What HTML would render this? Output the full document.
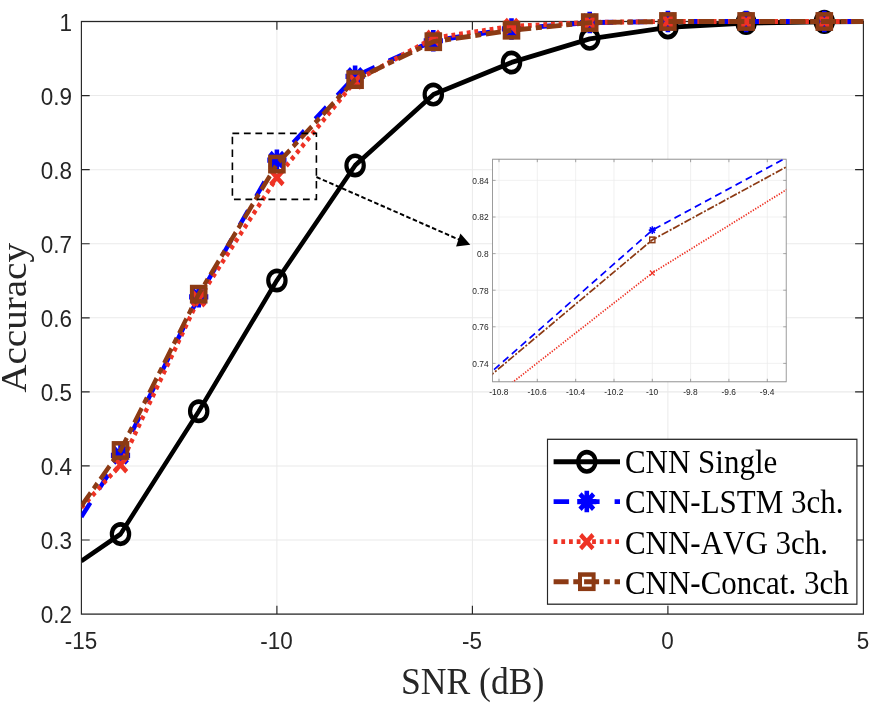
<!DOCTYPE html><html><head><meta charset="utf-8"><title>Accuracy vs SNR</title><style>html,body{margin:0;padding:0;background:#fff}svg{display:block}text{white-space:pre;font-kerning:none}</style></head><body>
<svg width="883" height="706" viewBox="0 0 883 706">
<rect width="883" height="706" fill="#fff"/>
<defs><clipPath id="cm"><rect x="81.4" y="0" width="782.0" height="548.30"/></clipPath>
<clipPath id="ci"><rect x="492.6" y="142.14" width="293.6" height="198.75"/></clipPath></defs>
<g transform="scale(1,1.12)">
<line x1="276.9" y1="19.20" x2="276.9" y2="548.30" stroke="#eaeaea" stroke-width="1"/>
<line x1="472.4" y1="19.20" x2="472.4" y2="548.30" stroke="#eaeaea" stroke-width="1"/>
<line x1="667.9" y1="19.20" x2="667.9" y2="548.30" stroke="#eaeaea" stroke-width="1"/>
<line x1="81.4" y1="482.17" x2="863.4" y2="482.17" stroke="#eaeaea" stroke-width="0.9"/>
<line x1="81.4" y1="416.03" x2="863.4" y2="416.03" stroke="#eaeaea" stroke-width="0.9"/>
<line x1="81.4" y1="349.89" x2="863.4" y2="349.89" stroke="#eaeaea" stroke-width="0.9"/>
<line x1="81.4" y1="283.75" x2="863.4" y2="283.75" stroke="#eaeaea" stroke-width="0.9"/>
<line x1="81.4" y1="217.61" x2="863.4" y2="217.61" stroke="#eaeaea" stroke-width="0.9"/>
<line x1="81.4" y1="151.47" x2="863.4" y2="151.47" stroke="#eaeaea" stroke-width="0.9"/>
<line x1="81.4" y1="85.33" x2="863.4" y2="85.33" stroke="#eaeaea" stroke-width="0.9"/>
<rect x="81.4" y="19.20" width="782.0" height="529.11" fill="none" stroke="#262626" stroke-width="1.15"/>
<path d="M276.9 548.30v-7.41M276.9 19.20v7.41" stroke="#262626" stroke-width="1.15"/>
<path d="M472.4 548.30v-7.41M472.4 19.20v7.41" stroke="#262626" stroke-width="1.15"/>
<path d="M667.9 548.30v-7.41M667.9 19.20v7.41" stroke="#262626" stroke-width="1.15"/>
<path d="M81.4 482.17h8.3M863.4 482.17h-8.3" stroke="#262626" stroke-width="1.05"/>
<path d="M81.4 416.03h8.3M863.4 416.03h-8.3" stroke="#262626" stroke-width="1.05"/>
<path d="M81.4 349.89h8.3M863.4 349.89h-8.3" stroke="#262626" stroke-width="1.05"/>
<path d="M81.4 283.75h8.3M863.4 283.75h-8.3" stroke="#262626" stroke-width="1.05"/>
<path d="M81.4 217.61h8.3M863.4 217.61h-8.3" stroke="#262626" stroke-width="1.05"/>
<path d="M81.4 151.47h8.3M863.4 151.47h-8.3" stroke="#262626" stroke-width="1.05"/>
<path d="M81.4 85.33h8.3M863.4 85.33h-8.3" stroke="#262626" stroke-width="1.05"/>
<g font-family="'Liberation Sans',Arial,Helvetica,sans-serif" font-size="21.1" fill="#262626">
<text transform="translate(80.9,579.64) scale(1.065,1)" text-anchor="middle">-15</text>
<text transform="translate(276.4,579.64) scale(1.065,1)" text-anchor="middle">-10</text>
<text transform="translate(471.9,579.64) scale(1.065,1)" text-anchor="middle">-5</text>
<text transform="translate(667.4,579.64) scale(1.065,1)" text-anchor="middle">0</text>
<text transform="translate(862.9,579.64) scale(1.065,1)" text-anchor="middle">5</text>
<text transform="translate(72.1,556.61) scale(1.065,1)" text-anchor="end">0.2</text>
<text transform="translate(72.1,490.47) scale(1.065,1)" text-anchor="end">0.3</text>
<text transform="translate(72.1,424.33) scale(1.065,1)" text-anchor="end">0.4</text>
<text transform="translate(72.1,358.19) scale(1.065,1)" text-anchor="end">0.5</text>
<text transform="translate(72.1,292.05) scale(1.065,1)" text-anchor="end">0.6</text>
<text transform="translate(72.1,225.92) scale(1.065,1)" text-anchor="end">0.7</text>
<text transform="translate(72.1,159.78) scale(1.065,1)" text-anchor="end">0.8</text>
<text transform="translate(72.1,93.64) scale(1.065,1)" text-anchor="end">0.9</text>
<text transform="translate(72.1,27.50) scale(1.065,1)" text-anchor="end">1</text>
</g>
<text transform="translate(472.6,619.29) scale(1,0.96)" text-anchor="middle" font-family="'Liberation Serif','Times New Roman',Times,serif" font-size="35.6" fill="#262626">SNR (dB)</text>
<text transform="translate(26,283.84) rotate(-90) scale(0.96,1)" text-anchor="middle" font-family="'Liberation Serif','Times New Roman',Times,serif" font-size="36.4" fill="#262626">Accuracy</text>
<polyline clip-path="url(#cm)" points="81.4,500.88 120.5,476.87 198.7,367.22 276.9,250.42 355.1,147.70 433.3,84.41 511.5,55.77 589.7,34.67 667.9,24.49 746.1,20.52 824.3,19.53 902.5,19.20" fill="none" stroke="#000" stroke-width="4.33" stroke-linejoin="round"/>
<circle cx="120.5" cy="476.87" r="8.65" fill="none" stroke="#000" stroke-width="4.2"/>
<circle cx="198.7" cy="367.22" r="8.65" fill="none" stroke="#000" stroke-width="4.2"/>
<circle cx="276.9" cy="250.42" r="8.65" fill="none" stroke="#000" stroke-width="4.2"/>
<circle cx="355.1" cy="147.70" r="8.65" fill="none" stroke="#000" stroke-width="4.2"/>
<circle cx="433.3" cy="84.41" r="8.65" fill="none" stroke="#000" stroke-width="4.2"/>
<circle cx="511.5" cy="55.77" r="8.65" fill="none" stroke="#000" stroke-width="4.2"/>
<circle cx="589.7" cy="34.67" r="8.65" fill="none" stroke="#000" stroke-width="4.2"/>
<circle cx="667.9" cy="24.49" r="8.65" fill="none" stroke="#000" stroke-width="4.2"/>
<circle cx="746.1" cy="20.52" r="8.65" fill="none" stroke="#000" stroke-width="4.2"/>
<circle cx="824.3" cy="19.53" r="8.65" fill="none" stroke="#000" stroke-width="4.2"/>
<polyline clip-path="url(#cm)" points="81.4,461.40 120.5,406.57 198.7,265.03 276.9,143.01 355.1,68.14 433.3,36.39 511.5,25.81 589.7,20.19 667.9,19.20 746.1,19.20 824.3,19.20 902.5,19.20" fill="none" stroke="#0000ff" stroke-width="4.33" stroke-linejoin="round" stroke-dasharray="15.5 15"/>
<path d="M110.9 406.57H130.1M120.5 396.97V416.17M113.7 399.78L127.3 413.36M113.7 413.36L127.3 399.78" fill="none" stroke="#0000ff" stroke-width="4.6"/>
<path d="M189.1 265.03H208.3M198.7 255.43V274.63M191.9 258.24L205.5 271.82M191.9 271.82L205.5 258.24" fill="none" stroke="#0000ff" stroke-width="4.6"/>
<path d="M267.3 143.01H286.5M276.9 133.41V152.61M270.1 136.22L283.7 149.80M270.1 149.80L283.7 136.22" fill="none" stroke="#0000ff" stroke-width="4.6"/>
<path d="M345.5 68.14H364.7M355.1 58.54V77.74M348.3 61.35L361.9 74.93M348.3 74.93L361.9 61.35" fill="none" stroke="#0000ff" stroke-width="4.6"/>
<path d="M423.7 36.39H442.9M433.3 26.79V45.99M426.5 29.60L440.1 43.18M426.5 43.18L440.1 29.60" fill="none" stroke="#0000ff" stroke-width="4.6"/>
<path d="M501.9 25.81H521.1M511.5 16.21V35.41M504.7 19.02L518.3 32.60M504.7 32.60L518.3 19.02" fill="none" stroke="#0000ff" stroke-width="4.6"/>
<path d="M580.1 20.19H599.3M589.7 10.59V29.79M582.9 13.40L596.5 26.98M582.9 26.98L596.5 13.40" fill="none" stroke="#0000ff" stroke-width="4.6"/>
<path d="M658.3 19.20H677.5M667.9 9.60V28.80M661.1 12.41L674.7 25.98M661.1 25.98L674.7 12.41" fill="none" stroke="#0000ff" stroke-width="4.6"/>
<path d="M736.5 19.20H755.7M746.1 9.60V28.80M739.3 12.41L752.9 25.98M739.3 25.98L752.9 12.41" fill="none" stroke="#0000ff" stroke-width="4.6"/>
<path d="M814.7 19.20H833.9M824.3 9.60V28.80M817.5 12.41L831.1 25.98M817.5 25.98L831.1 12.41" fill="none" stroke="#0000ff" stroke-width="4.6"/>
<polyline clip-path="url(#cm)" points="81.4,453.06 120.5,414.97 198.7,266.88 276.9,158.48 355.1,72.44 433.3,34.08 511.5,23.50 589.7,19.99 667.9,19.20 746.1,19.20 824.3,19.20 902.5,19.20" fill="none" stroke="#ee3224" stroke-width="4.33" stroke-linejoin="round" stroke-dasharray="3.8 3.9"/>
<path d="M114.3 408.77L126.7 421.17M114.3 421.17L126.7 408.77" fill="none" stroke="#ee3224" stroke-width="4.3"/>
<path d="M192.5 260.68L204.9 273.08M192.5 273.08L204.9 260.68" fill="none" stroke="#ee3224" stroke-width="4.3"/>
<path d="M270.7 152.28L283.1 164.68M270.7 164.68L283.1 152.28" fill="none" stroke="#ee3224" stroke-width="4.3"/>
<path d="M348.9 66.24L361.3 78.64M348.9 78.64L361.3 66.24" fill="none" stroke="#ee3224" stroke-width="4.3"/>
<path d="M427.1 27.88L439.5 40.28M427.1 40.28L439.5 27.88" fill="none" stroke="#ee3224" stroke-width="4.3"/>
<path d="M505.3 17.30L517.7 29.70M505.3 29.70L517.7 17.30" fill="none" stroke="#ee3224" stroke-width="4.3"/>
<path d="M583.5 13.79L595.9 26.19M583.5 26.19L595.9 13.79" fill="none" stroke="#ee3224" stroke-width="4.3"/>
<path d="M661.7 13.00L674.1 25.40M661.7 25.40L674.1 13.00" fill="none" stroke="#ee3224" stroke-width="4.3"/>
<path d="M739.9 13.00L752.3 25.40M739.9 25.40L752.3 13.00" fill="none" stroke="#ee3224" stroke-width="4.3"/>
<path d="M818.1 13.00L830.5 25.40M818.1 25.40L830.5 13.00" fill="none" stroke="#ee3224" stroke-width="4.3"/>
<polyline clip-path="url(#cm)" points="81.4,451.74 120.5,402.20 198.7,262.65 276.9,146.51 355.1,71.12 433.3,37.25 511.5,27.00 589.7,20.19 667.9,19.20 746.1,19.20 824.3,19.20 902.5,19.20" fill="none" stroke="#8c3a14" stroke-width="4.33" stroke-linejoin="round" stroke-dasharray="15 4.7 6 4.8"/>
<rect x="113.7" y="395.81" width="13.60" height="12.78" fill="none" stroke="#8c3a14" stroke-width="4.0"/>
<rect x="191.9" y="256.26" width="13.60" height="12.78" fill="none" stroke="#8c3a14" stroke-width="4.0"/>
<rect x="270.1" y="140.12" width="13.60" height="12.78" fill="none" stroke="#8c3a14" stroke-width="4.0"/>
<rect x="348.3" y="64.72" width="13.60" height="12.78" fill="none" stroke="#8c3a14" stroke-width="4.0"/>
<rect x="426.5" y="30.86" width="13.60" height="12.78" fill="none" stroke="#8c3a14" stroke-width="4.0"/>
<rect x="504.7" y="20.61" width="13.60" height="12.78" fill="none" stroke="#8c3a14" stroke-width="4.0"/>
<rect x="582.9" y="13.80" width="13.60" height="12.78" fill="none" stroke="#8c3a14" stroke-width="4.0"/>
<rect x="661.1" y="12.80" width="13.60" height="12.78" fill="none" stroke="#8c3a14" stroke-width="4.0"/>
<rect x="739.3" y="12.80" width="13.60" height="12.78" fill="none" stroke="#8c3a14" stroke-width="4.0"/>
<rect x="817.5" y="12.80" width="13.60" height="12.78" fill="none" stroke="#8c3a14" stroke-width="4.0"/>
<path d="M232.4 119.11H316.4V177.95H232.4Z" fill="none" stroke="#000" stroke-width="1.6" stroke-dasharray="6.8 4.7"/>
<line x1="316.4" y1="158.04" x2="459" y2="213.93" stroke="#000" stroke-width="1.8" stroke-dasharray="4.5 2.4"/>
<path d="M470.3 218.57L460.4 208.39L456.1 220.18Z" fill="#000"/>
<rect x="492.6" y="142.14" width="293.6" height="198.75" fill="#fff"/>
<line x1="499.0" y1="142.14" x2="499.0" y2="340.89" stroke="#ebebeb" stroke-width="0.7"/>
<line x1="537.3" y1="142.14" x2="537.3" y2="340.89" stroke="#ebebeb" stroke-width="0.7"/>
<line x1="575.7" y1="142.14" x2="575.7" y2="340.89" stroke="#ebebeb" stroke-width="0.7"/>
<line x1="614.0" y1="142.14" x2="614.0" y2="340.89" stroke="#ebebeb" stroke-width="0.7"/>
<line x1="652.3" y1="142.14" x2="652.3" y2="340.89" stroke="#ebebeb" stroke-width="0.7"/>
<line x1="690.6" y1="142.14" x2="690.6" y2="340.89" stroke="#ebebeb" stroke-width="0.7"/>
<line x1="728.9" y1="142.14" x2="728.9" y2="340.89" stroke="#ebebeb" stroke-width="0.7"/>
<line x1="767.3" y1="142.14" x2="767.3" y2="340.89" stroke="#ebebeb" stroke-width="0.7"/>
<line x1="492.6" y1="324.46" x2="786.2" y2="324.46" stroke="#ebebeb" stroke-width="0.65"/>
<line x1="492.6" y1="291.79" x2="786.2" y2="291.79" stroke="#ebebeb" stroke-width="0.65"/>
<line x1="492.6" y1="259.11" x2="786.2" y2="259.11" stroke="#ebebeb" stroke-width="0.65"/>
<line x1="492.6" y1="226.43" x2="786.2" y2="226.43" stroke="#ebebeb" stroke-width="0.65"/>
<line x1="492.6" y1="193.75" x2="786.2" y2="193.75" stroke="#ebebeb" stroke-width="0.65"/>
<line x1="492.6" y1="161.07" x2="786.2" y2="161.07" stroke="#ebebeb" stroke-width="0.65"/>
<rect x="492.6" y="142.14" width="293.6" height="198.75" fill="none" stroke="#848484" stroke-width="0.8"/>
<path d="M499.0 340.89v-2.68M499.0 142.14v2.68" stroke="#848484" stroke-width="0.7"/>
<path d="M537.3 340.89v-2.68M537.3 142.14v2.68" stroke="#848484" stroke-width="0.7"/>
<path d="M575.7 340.89v-2.68M575.7 142.14v2.68" stroke="#848484" stroke-width="0.7"/>
<path d="M614.0 340.89v-2.68M614.0 142.14v2.68" stroke="#848484" stroke-width="0.7"/>
<path d="M652.3 340.89v-2.68M652.3 142.14v2.68" stroke="#848484" stroke-width="0.7"/>
<path d="M690.6 340.89v-2.68M690.6 142.14v2.68" stroke="#848484" stroke-width="0.7"/>
<path d="M728.9 340.89v-2.68M728.9 142.14v2.68" stroke="#848484" stroke-width="0.7"/>
<path d="M767.3 340.89v-2.68M767.3 142.14v2.68" stroke="#848484" stroke-width="0.7"/>
<path d="M492.6 324.46h3M786.2 324.46h-3" stroke="#848484" stroke-width="0.65"/>
<path d="M492.6 291.79h3M786.2 291.79h-3" stroke="#848484" stroke-width="0.65"/>
<path d="M492.6 259.11h3M786.2 259.11h-3" stroke="#848484" stroke-width="0.65"/>
<path d="M492.6 226.43h3M786.2 226.43h-3" stroke="#848484" stroke-width="0.65"/>
<path d="M492.6 193.75h3M786.2 193.75h-3" stroke="#848484" stroke-width="0.65"/>
<path d="M492.6 161.07h3M786.2 161.07h-3" stroke="#848484" stroke-width="0.65"/>
<g font-family="'Liberation Sans',Arial,Helvetica,sans-serif" font-size="8.4" fill="#262626">
<text x="498.8" y="352.68" text-anchor="middle">-10.8</text>
<text x="537.1" y="352.68" text-anchor="middle">-10.6</text>
<text x="575.5" y="352.68" text-anchor="middle">-10.4</text>
<text x="613.8" y="352.68" text-anchor="middle">-10.2</text>
<text x="652.1" y="352.68" text-anchor="middle">-10</text>
<text x="690.4" y="352.68" text-anchor="middle">-9.8</text>
<text x="728.7" y="352.68" text-anchor="middle">-9.6</text>
<text x="767.1" y="352.68" text-anchor="middle">-9.4</text>
<text x="488.6" y="327.50" text-anchor="end">0.74</text>
<text x="488.6" y="294.82" text-anchor="end">0.76</text>
<text x="488.6" y="262.14" text-anchor="end">0.78</text>
<text x="488.6" y="229.46" text-anchor="end">0.8</text>
<text x="488.6" y="196.79" text-anchor="end">0.82</text>
<text x="488.6" y="164.11" text-anchor="end">0.84</text>
</g>
<polyline clip-path="url(#ci)" points="-305.7,992.09 -114.1,856.63 269.1,506.97 652.3,205.51 1035.5,20.55 1418.7,-57.88 1801.9,-84.02 2185.1,-97.91 2568.3,-100.36 2951.5,-100.36 3334.7,-100.36 3717.9,-100.36" fill="none" stroke="#0000ff" stroke-width="1.6" stroke-dasharray="7 4.3"/>
<path d="M648.8 205.51H655.8M652.3 202.01V209.01M649.8 203.04L654.8 207.99M649.8 207.99L654.8 203.04" fill="none" stroke="#0000ff" stroke-width="1.5"/>
<polyline clip-path="url(#ci)" points="-305.7,971.50 -114.1,877.39 269.1,511.55 652.3,243.75 1035.5,31.17 1418.7,-63.59 1801.9,-89.74 2185.1,-98.40 2568.3,-100.36 2951.5,-100.36 3334.7,-100.36 3717.9,-100.36" fill="none" stroke="#ee3224" stroke-width="1.6" stroke-dasharray="1.3 1.4"/>
<path d="M650.0 241.45L654.6 246.05M650.0 246.05L654.6 241.45" fill="none" stroke="#ee3224" stroke-width="1.2"/>
<polyline clip-path="url(#ci)" points="-305.7,968.23 -114.1,845.85 269.1,501.09 652.3,214.17 1035.5,27.91 1418.7,-55.75 1801.9,-81.08 2185.1,-97.91 2568.3,-100.36 2951.5,-100.36 3334.7,-100.36 3717.9,-100.36" fill="none" stroke="#8c3a14" stroke-width="1.6" stroke-dasharray="7.3 1.7 2 1.7"/>
<rect x="649.7" y="211.73" width="5.20" height="4.89" fill="none" stroke="#8c3a14" stroke-width="1.4"/>
<rect x="547.5" y="392.23" width="309.4" height="147.23" fill="#fff" stroke="#262626" stroke-width="1.15"/>
<line x1="553.6" y1="412.32" x2="620.0" y2="412.32" stroke="#000" stroke-width="4.33"/>
<circle cx="586.8" cy="412.32" r="8.65" fill="none" stroke="#000" stroke-width="4.2"/>
<text x="624.9" y="422.32" font-family="'Liberation Serif','Times New Roman',Times,serif" font-size="31" fill="#000">CNN Single</text>
<line x1="553.6" y1="447.86" x2="620.0" y2="447.86" stroke="#0000ff" stroke-width="4.33" stroke-dasharray="15.5 15"/>
<path d="M577.2 447.86H596.4M586.8 438.26V457.46M580.0 441.07L593.6 454.65M580.0 454.65L593.6 441.07" fill="none" stroke="#0000ff" stroke-width="4.6"/>
<text x="624.9" y="458.30" font-family="'Liberation Serif','Times New Roman',Times,serif" font-size="31" fill="#000">CNN-LSTM 3ch.</text>
<line x1="553.6" y1="483.66" x2="620.0" y2="483.66" stroke="#ee3224" stroke-width="4.33" stroke-dasharray="3.8 3.9"/>
<path d="M580.6 477.46L593.0 489.86M580.6 489.86L593.0 477.46" fill="none" stroke="#ee3224" stroke-width="4.3"/>
<text x="624.9" y="494.38" font-family="'Liberation Serif','Times New Roman',Times,serif" font-size="31" fill="#000">CNN-AVG 3ch.</text>
<line x1="553.6" y1="519.38" x2="620.0" y2="519.38" stroke="#8c3a14" stroke-width="4.33" stroke-dasharray="15 4.7 6 4.8"/>
<rect x="580.0" y="512.98" width="13.60" height="12.78" fill="none" stroke="#8c3a14" stroke-width="4.0"/>
<text x="624.9" y="530.45" font-family="'Liberation Serif','Times New Roman',Times,serif" font-size="31" fill="#000">CNN-Concat. 3ch</text>
</g>
</svg></body></html>
